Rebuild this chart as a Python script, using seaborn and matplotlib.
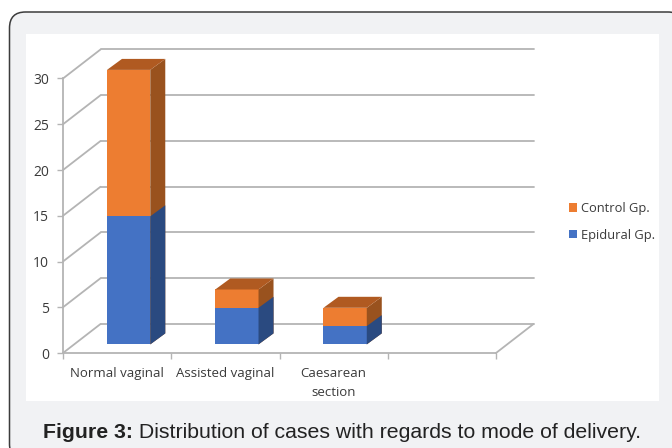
import numpy as np
import matplotlib
matplotlib.use('Agg')
import matplotlib.pyplot as plt
import seaborn as sns
from matplotlib.patches import FancyBboxPatch, Polygon, Rectangle
from matplotlib.transforms import Affine2D

# values
categories = ['Normal vaginal', 'Assisted vaginal', 'Caesarean\nsection']
epidural = [14, 4, 2]
control = [16, 2, 2]
y_ticks = [0, 5, 10, 15, 20, 25, 30]
group_names = ['Control Gp.', 'Epidural Gp.']

W, H = 672, 448
GREY = '#b4b4b4'
TXT = '#3a3a3a'
ORANGE, BLUE = '#ed7d31', '#4472c4'
ORANGE_SIDE, ORANGE_TOP = '#99521e', '#b05a21'
BLUE_SIDE = '#2a4a80'

sns.set_theme(style='white')
plt.rcParams['font.family'] = ['Open Sans', 'DejaVu Sans']

fig = plt.figure(figsize=(W / 100, H / 100), dpi=100, facecolor='white')

# background card and white chart panel, figure size in pixels
bg = fig.add_axes([0, 0, 1, 1], zorder=0)
bg.set_xlim(0, W)
bg.set_ylim(H, 0)
bg.axis('off')
bg.add_patch(FancyBboxPatch((9.5 + 16, 12 + 16), 668 - 9.5 - 16, 460 - 12 - 32,
                            boxstyle='round,pad=16,rounding_size=16',
                            fc='#f1f2f4', ec='#3c3c3c', lw=1.1))
bg.add_patch(Rectangle((26, 34), 633, 367, fc='white', ec='none'))

# axes = the front plane of the 3d box
left, right, bottom, top = 63, 496, 353, 78.5
ax = fig.add_axes([left / W, 1 - bottom / H, (right - left) / W, (bottom - top) / H], zorder=1)
ax.patch.set_alpha(0)

totals = np.array(epidural) + np.array(control)
sns.barplot(x=categories, y=totals, color=ORANGE, saturation=1, width=0.4, label=group_names[0], ax=ax, zorder=3)
n_before = len(ax.patches)
sns.barplot(x=categories, y=epidural, color=BLUE, saturation=1, width=0.4, label=group_names[1], ax=ax, zorder=4)

ax.set_xlim(-0.5, 3.5)
ax.set_ylim(0, 30)

# px to data units
ux = (right - left) / 4
uy = (bottom - top) / 30
back_x, back_y = 37.5 / ux, 29 / uy    # back wall
shift_x, shift_y = 11.5 / ux, 8.6 / uy # bars stand inside the floor
dep_x, dep_y = 15 / ux, 11 / uy        # bar depth

# walls and floor
wall = dict(color=GREY, lw=1.3, clip_on=False, zorder=1, solid_capstyle='round')
for t in y_ticks:
    ax.plot([-0.5, -0.5 + back_x], [t, t + back_y], **wall)
    ax.plot([-0.5 + back_x, 3.5 + back_x], [t + back_y, t + back_y], **wall)
ax.plot([3.5, 3.5 + back_x], [0, back_y], **wall)

# move the bars and put the 3d faces on
shift = Affine2D().translate(shift_x, shift_y) + ax.transData
for i, bar in enumerate(list(ax.patches)):
    bar.set_transform(shift)
    bar.set_clip_on(False)
    bar.set_linewidth(0)
    x0, x1 = bar.get_x(), bar.get_x() + bar.get_width()
    h = bar.get_height()
    is_orange = i < n_before
    side = Polygon([(x1, 0), (x1 + dep_x, dep_y), (x1 + dep_x, h + dep_y), (x1, h)],
                   closed=True, fc=ORANGE_SIDE if is_orange else BLUE_SIDE, ec='none',
                   transform=shift, clip_on=False, zorder=3 if is_orange else 4)
    ax.add_patch(side)
    if is_orange:
        ax.add_patch(Polygon([(x0, h), (x1, h), (x1 + dep_x, h + dep_y), (x0 + dep_x, h + dep_y)],
                             closed=True, fc=ORANGE_TOP, ec='none',
                             transform=shift, clip_on=False, zorder=3))

# axes look
sns.despine(ax=ax, top=True, right=True)
for s in ['left', 'bottom']:
    ax.spines[s].set_color(GREY)
    ax.spines[s].set_linewidth(1.3)
ax.set_yticks(y_ticks)
ax.set_xticks([0, 1, 2])
ax.set_xticklabels(categories, linespacing=1.6)
ax.set_xticks([-0.5, 0.5, 1.5, 2.5, 3.5], minor=True)
ax.tick_params(axis='x', which='major', length=0, pad=10, labelsize=9.5, labelcolor=TXT)
ax.tick_params(axis='x', which='minor', bottom=True, length=4, width=1, color=GREY)
ax.tick_params(axis='y', left=True, length=4, width=1, color=GREY, pad=6.2, labelsize=10, labelcolor=TXT)

handles, labels = ax.get_legend_handles_labels()
ax.legend(handles, labels, loc='upper left', bbox_to_anchor=(569 / W, 1 - 202 / H),
          bbox_transform=fig.transFigure, frameon=False, fontsize=9.3, labelcolor=TXT,
          handlelength=0.62, handleheight=0.62, handletextpad=0.3, labelspacing=1.05,
          borderpad=0, borderaxespad=0)

# caption, bold part then normal part on the same baseline
cap = fig.text(43 / W, 1 - 438 / H, 'Figure 3:', family='Liberation Sans', weight='bold',
               fontsize=15.3, color='#222222', va='baseline')
fig.canvas.draw()
cap_end = cap.get_window_extent().x1
fig.text(cap_end / W, 1 - 438 / H, ' Distribution of cases with regards to mode of delivery.',
         family='Liberation Sans', fontsize=15.3, color='#222222', va='baseline')

fig.savefig('out.png', dpi=100)
